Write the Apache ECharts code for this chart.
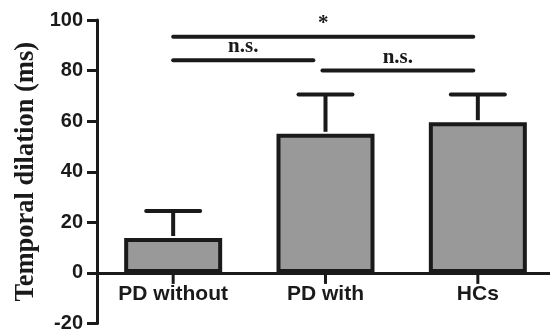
<!DOCTYPE html>
<html>
<head>
<meta charset="utf-8">
<script src="https://cdn.jsdelivr.net/npm/echarts@6/dist/echarts.min.js"></script>
<style>
  html, body { margin: 0; padding: 0; background: #fff; }
  #chart { width: 550px; height: 333px; }
</style>
</head>
<body>
<div id="chart"></div>
<script>
const categories = ["PD without", "PD with", "HCs"];
const means = [13.8, 55.0, 59.6];
const errorTops = [24.5, 70.5, 70.5];
const yTicks = [-20, 0, 20, 40, 60, 80, 100];

// significance brackets: start / end as category positions, height, label
const sigStart = [0, 0, 0.98];
const sigEnd = [1.97, 0.92, 1.97];
const sigY = [93.4, 84.1, 80.0];
const sigLabels = ["*", "n.s.", "n.s."];

const ink = "#1a1a1a";
const chart = echarts.init(document.getElementById("chart"));

chart.setOption({
  animation: false,
  grid: { left: 97, top: 20, width: 457, bottom: 9.5, containLabel: false, outerBoundsMode: "none" },
  xAxis: {
    type: "category",
    data: categories,
    axisLine: { onZero: false, lineStyle: { color: ink, width: 3 } },
    axisTick: { show: false },
    axisLabel: {
      color: ink,
      fontFamily: "Liberation Sans, Arial, sans-serif",
      fontWeight: "bold",
      fontSize: 21,
      margin: 11,
    },
  },
  yAxis: {
    type: "value",
    min: yTicks[0],
    max: yTicks[yTicks.length - 1],
    interval: 20,
    name: "Temporal dilation (ms)",
    nameLocation: "middle",
    nameGap: 57,
    nameMoveOverlap: false,
    nameTextStyle: {
      color: ink,
      fontFamily: "Liberation Serif, Times New Roman, serif",
      fontWeight: "bold",
      fontSize: 26.5,
    },
    splitLine: { show: false },
    axisLine: { show: true, lineStyle: { color: ink, width: 3 } },
    axisTick: { show: true, length: 10, lineStyle: { color: ink, width: 3 } },
    axisLabel: {
      color: ink,
      fontFamily: "Liberation Sans, Arial, sans-serif",
      fontWeight: "bold",
      fontSize: 20,
      margin: 14,
    },
  },
  series: [
    {
      type: "bar",
      data: means,
      barWidth: 98,
      itemStyle: { color: "#999999", borderColor: ink, borderWidth: 4 },
      z: 2,
    },
    {
      // category ticks under the zero line
      type: "scatter",
      data: categories.map((c, i) => [i, 0]),
      symbol: "rect",
      symbolSize: [3, 10],
      symbolOffset: [0, 6],
      itemStyle: { color: ink, opacity: 1 },
      silent: true,
      z: 12,
    },
    {
      type: "custom",
      data: means.map((m, i) => [i, m, errorTops[i]]),
      z: 10,
      renderItem(params, api) {
        const base = api.coord([api.value(0), api.value(1)]);
        const top = api.coord([api.value(0), api.value(2)]);
        const half = 27;
        return {
          type: "group",
          children: [
            {
              type: "line",
              shape: { x1: base[0], y1: base[1] - 2, x2: top[0], y2: top[1] },
              style: { stroke: ink, lineWidth: 4 },
            },
            {
              type: "line",
              shape: { x1: top[0] - half, y1: top[1], x2: top[0] + half, y2: top[1] },
              style: { stroke: ink, lineWidth: 4, lineCap: "round" },
            },
          ],
        };
      },
    },
    {
      type: "custom",
      data: sigY.map((y, i) => [sigStart[i], sigEnd[i], y, sigLabels[i]]),
      z: 4,
      renderItem(params, api) {
        const band = api.size([1, 0])[0];
        const c0 = api.coord([0, api.value(2)]);
        const x1 = c0[0] + api.value(0) * band;
        const x2 = c0[0] + api.value(1) * band;
        const y = c0[1];
        return {
          type: "group",
          children: [
            {
              type: "line",
              shape: { x1: x1, y1: y, x2: x2, y2: y },
              style: { stroke: ink, lineWidth: 4, lineCap: "round" },
            },
            {
              type: "text",
              x: (x1 + x2) / 2,
              y: y - 3,
              style: {
                text: sigLabels[params.dataIndex],
                fill: ink,
                font: "bold 21px 'Liberation Serif', 'Times New Roman', serif",
                align: "center",
                verticalAlign: "bottom",
              },
            },
          ],
        };
      },
    },
  ],
});

// move the category axis (line and labels) up to y = 0
const yBottom = chart.convertToPixel({ yAxisIndex: 0 }, yTicks[0]);
const yZero = chart.convertToPixel({ yAxisIndex: 0 }, 0);
chart.setOption({ xAxis: { offset: -(yBottom - yZero) } });
</script>
</body>
</html>
